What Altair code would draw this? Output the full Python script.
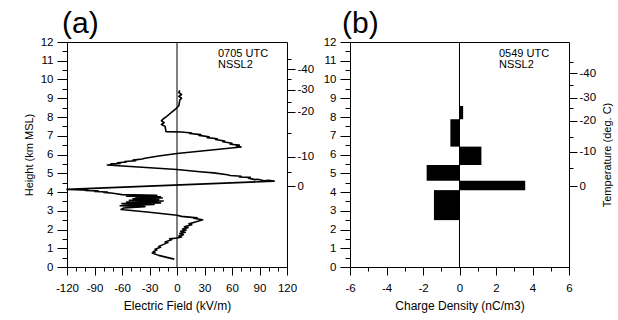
import altair as alt
import pandas as pd

FONT = "Liberation Sans"

# ---- Panel (a): electric field sounding (kV/m) vs height (km MSL) ----
efield = [-3, -10, -20, -27, -24, -26, -22, -24, -18, -20, -14, -10, -13, -6, -8, 0,
          5, 2, 7, 3, 9, 4, 10, 6, 12, 8, 16, 13, 20, 28, 18, 22, 5, 0,
          -30, -61, -58, -35, -62, -25, -60, -18, -55, -15, -52, -20, -48, -16, -45, -18, -55, -22, -60,
          -68, -72, -80, -76, -90, -86, -100, -97, -110, -120,
          106, 100, 95, 88, 85, 78, 80, 68, 70, 58, 55, 40, 25, 0,
          -76, -70, -72, -62, -65, -55, -57, -45, -48, -38, -35, -20, 0,
          70, 65, 68, 58, 60, 50, 52, 42, 44, 33, 35, 24, 26, 14, 16, 5, -12,
          -13, -17, -14, -17, -15, -12, -6, -1, 2, 3, 5, 2, 5, 2, 3]
efield_height = [0.42, 0.50, 0.62, 0.75, 0.78, 0.82, 0.90, 0.95, 1.05, 1.10, 1.22, 1.30, 1.33, 1.45, 1.50, 1.55,
                 1.60, 1.65, 1.72, 1.78, 1.85, 1.90, 1.97, 2.03, 2.10, 2.15, 2.25, 2.30, 2.40, 2.52, 2.60, 2.62, 2.70, 2.76,
                 2.92, 3.07, 3.15, 3.22, 3.27, 3.33, 3.38, 3.42, 3.47, 3.52, 3.56, 3.60, 3.64, 3.68, 3.72, 3.75, 3.78, 3.82, 3.86,
                 3.92, 3.95, 3.98, 4.00, 4.03, 4.06, 4.08, 4.10, 4.12, 4.14,
                 4.58, 4.62, 4.60, 4.68, 4.66, 4.74, 4.78, 4.80, 4.84, 4.88, 4.92, 5.02, 5.08, 5.20,
                 5.44, 5.47, 5.50, 5.52, 5.56, 5.60, 5.63, 5.67, 5.70, 5.76, 5.80, 5.92, 6.05,
                 6.40, 6.45, 6.50, 6.55, 6.60, 6.68, 6.72, 6.80, 6.84, 6.90, 6.95, 7.02, 7.06, 7.12, 7.15, 7.20, 7.22,
                 7.50, 7.60, 7.70, 7.80, 7.90, 8.00, 8.25, 8.45, 8.60, 8.90, 9.00, 9.10, 9.20, 9.30, 9.42]

# ---- Panel (b): charge density layers (nC/m3) ----
rho_bottom = [2.50, 4.10, 4.60, 5.44, 6.42, 7.88]
rho_top = [4.10, 4.60, 5.44, 6.42, 7.88, 8.59]
rho_value = [-1.4, 3.6, -1.8, 1.2, -0.5, 0.2]

# ---- Tick values / labels ----
e_ticks = [-120, -90, -60, -30, 0, 30, 60, 90, 120]
e_minor = [-120, -110, -100, -90, -80, -70, -60, -50, -40, -30, -20, -10, 0,
           10, 20, 30, 40, 50, 60, 70, 80, 90, 100, 110, 120]
q_ticks = [-6, -4, -2, 0, 2, 4, 6]
q_minor = [-6, -5, -4, -3, -2, -1, 0, 1, 2, 3, 4, 5, 6]
h_ticks = [0, 1, 2, 3, 4, 5, 6, 7, 8, 9, 10, 11, 12]
h_minor = [0.5, 1.5, 2.5, 3.5, 4.5, 5.5, 6.5, 7.5, 8.5, 9.5, 10.5, 11.5]
temp_labels = ["0", "-10", "-20", "-30", "-40"]
temp_h_a = [4.32, 5.87, 8.29, 9.45, 10.55]
temp_minor_h_a = [5.08, 7.13, 8.82, 10.02, 11.09]
temp_h_b = [4.32, 6.15, 7.79, 9.04, 10.34]
temp_minor_h_b = [5.26, 6.95, 8.49, 9.72, 10.91]

# ---- Layout: two framed panels side by side in one view ----
PW = 220          # panel a plot width
GAP = 63          # gap between panels
PW_B = 219        # panel b plot width
W = PW + GAP + PW_B
H = 225

HSCALE = alt.Scale(domain=[0, 12], nice=False, zero=False)
SCALE_A = alt.Scale(domain=[-120, 120], nice=False, zero=False, range=[0, PW])
SCALE_B = alt.Scale(domain=[-6, 6], nice=False, zero=False, range=[PW + GAP, W])


def temp_expr(heights):
    labs = ",".join("'%s'" % t for t in temp_labels)
    hs = ",".join(str(h) for h in heights)
    return "[%s][indexof([%s], datum.value)]" % (labs, hs)


def ghost(values, field):
    return alt.Chart(pd.DataFrame({field: values})).mark_point(opacity=0)


def panel_layers(main, field, scale, xmajor, xminor, xtitle, left_offset, ytitle,
                 right_offset, tmaj, tmin, ttitle, note, note_x, label, label_x):
    main = main.encode(
        x=alt.X(field + ":Q", scale=scale,
                axis=alt.Axis(orient="bottom", values=xmajor, tickSize=8, labelPadding=7,
                              title=xtitle, titlePadding=7, labelExpr="'' + datum.value",
                              labelFlush=False, labelOverlap=False, domain=True, grid=False)),
        y=alt.Y("h:Q", scale=HSCALE,
                axis=alt.Axis(orient="left", offset=left_offset, values=h_ticks, tickSize=10,
                              labelPadding=4, title=ytitle, titlePadding=6, titleFontSize=11,
                              labelFlush=False, labelOverlap=False, domain=True, grid=False)),
    )
    xminor_l = ghost(xminor, field).encode(
        x=alt.X(field + ":Q", scale=scale,
                axis=alt.Axis(orient="bottom", values=xminor, tickSize=4, labels=False,
                              domain=False, grid=False, title=""))
    )
    xtop_l = ghost(xmajor, field).encode(
        x=alt.X(field + ":Q", scale=scale,
                axis=alt.Axis(orient="top", ticks=False, labels=False,
                              domain=True, grid=False, title=""))
    )
    yminor_l = ghost(h_minor, "h").encode(
        y=alt.Y("h:Q", scale=HSCALE,
                axis=alt.Axis(orient="left", offset=left_offset, values=h_minor, tickSize=5,
                              labels=False, domain=False, grid=False, title=""))
    )
    tmaj_l = ghost(tmaj, "h").encode(
        y=alt.Y("h:Q", scale=HSCALE,
                axis=alt.Axis(orient="right", offset=right_offset, values=tmaj, tickSize=8,
                              labelPadding=2, labelExpr=temp_expr(tmaj), domain=True,
                              grid=False, labelFlush=False, labelOverlap=False,
                              title=ttitle, titleAngle=270, titleBaseline="top",
                              titlePadding=6, titleFontSize=11))
    )
    tmin_l = ghost(tmin, "h").encode(
        y=alt.Y("h:Q", scale=HSCALE,
                axis=alt.Axis(orient="right", offset=right_offset, values=tmin, tickSize=4,
                              labels=False, domain=False, grid=False, title=""))
    )
    zero_l = alt.Chart(pd.DataFrame({field: [0]})).mark_rule(color="black", strokeWidth=1).encode(
        x=alt.X(field + ":Q", scale=scale, axis=None)
    )
    note_l = alt.Chart(pd.DataFrame({"t": [note]})).mark_text(
        align="left", baseline="top", font=FONT, fontSize=11, lineBreak="\n",
        lineHeight=10.5, color="black"
    ).encode(x=alt.value(note_x), y=alt.value(6), text="t:N")
    label_l = alt.Chart(pd.DataFrame({"t": [label]})).mark_text(
        align="left", baseline="alphabetic", font=FONT, fontSize=30, color="black"
    ).encode(x=alt.value(label_x), y=alt.value(-9), text="t:N")
    return [main, xminor_l, xtop_l, yminor_l, tmaj_l, tmin_l, zero_l, note_l, label_l]


df_e = pd.DataFrame({"E": efield, "h": efield_height, "i": list(range(len(efield)))})
line = alt.Chart(df_e).mark_line(color="black", strokeWidth=1.6, strokeJoin="round").encode(
    order=alt.Order("i:Q"))

df_q = pd.DataFrame({"lo": rho_bottom, "h": rho_top, "q": rho_value, "zero": [0] * len(rho_value)})
bars = alt.Chart(df_q).mark_bar(color="black").encode(x2="zero:Q", y2="lo:Q")

layers_a = panel_layers(line, "E", SCALE_A, e_ticks, e_minor, "Electric Field (kV/m)",
                        0, "Height (km MSL)", -(W - PW), temp_h_a, temp_minor_h_a, "",
                        "0705 UTC\nNSSL2", 151, "(a)", -5)
layers_b = panel_layers(bars, "q", SCALE_B, q_ticks, q_minor, "Charge Density (nC/m3)",
                        -(PW + GAP), "", 0, temp_h_b, temp_minor_h_b, "Temperature (deg. C)",
                        "0549 UTC\nNSSL2", PW + GAP + 149, "(b)", PW + GAP - 8)

chart = alt.layer(*layers_a, *layers_b).resolve_scale(
    x="independent"
).resolve_axis(
    x="independent", y="independent"
).properties(
    width=W, height=H,
    autosize=alt.AutoSizeParams(type="none"),
    padding={"left": 67, "top": 42, "right": 618 - 67 - W, "bottom": 320 - 42 - H},
    background="white",
).configure(font=FONT).configure_view(
    strokeOpacity=0
).configure_axis(
    labelFont=FONT, titleFont=FONT, labelFontSize=11.5, titleFontSize=12,
    titleFontWeight="normal", tickColor="black", labelColor="black",
    titleColor="black", tickWidth=1, domainColor="black", domainWidth=1
)

chart.save("out.html", embed_options={"renderer": "svg", "actions": False})
